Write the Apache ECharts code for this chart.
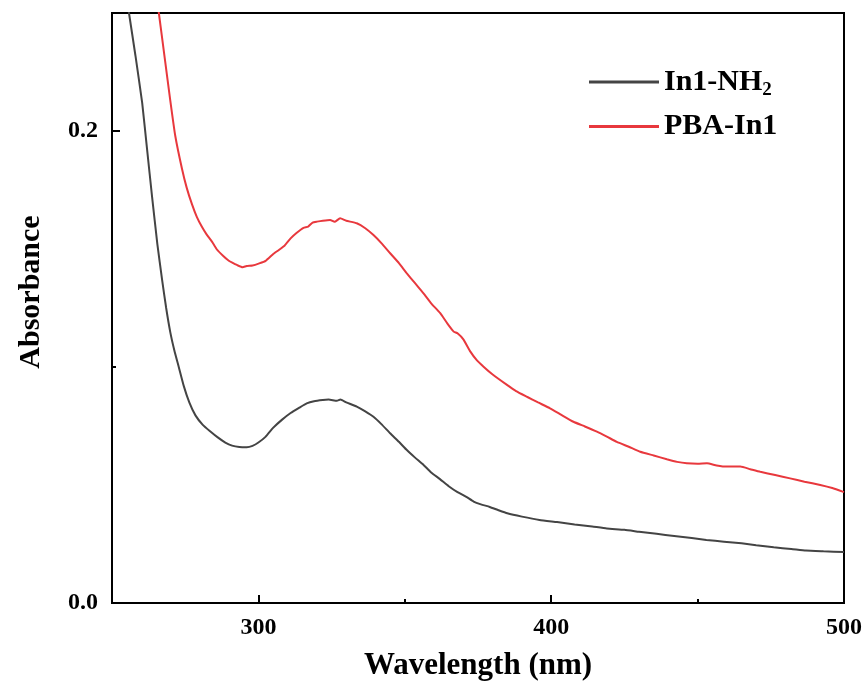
<!DOCTYPE html>
<html>
<head>
<meta charset="utf-8">
<script src="https://cdn.jsdelivr.net/npm/echarts@6/dist/echarts.min.js"></script>
<style>html,body{margin:0;padding:0;background:#fff;}#c{width:866px;height:693px;}</style>
</head>
<body>
<div id="c"></div>
<script>
const seriesNames = ['In1-NH2', 'PBA-In1'];
const xTickLabels = [300, 400, 500];
const xMinorTicks = [350, 450];
const yTickLabels = [0, 0.2];
const yMinorTicks = [0.1];

const wlBlack = [254,255.8,258,260.3,262,263.7,265.5,267.1,268.5,269.9,271.3,272.8,274.5,276.4,278.5,281,283.5,286,288.7,291,293.5,296,298,300,302.5,305,308,311,314,316.5,319,322,324,326.8,328,330,333.6,336.5,339.3,342,345,348,350.7,353.5,356.4,359,362,365,368,371,373.5,376,379,382,385,390,396,402,408,414,419,425,430,436,442,448,453,459,465,470,476,482,487,493,500];
const absBlack = [0.265,0.25,0.232,0.212,0.192,0.172,0.152,0.137,0.125,0.1148,0.107,0.100,0.092,0.085,0.0795,0.0755,0.0728,0.0703,0.0680,0.0667,0.0661,0.066,0.0666,0.068,0.0705,0.0742,0.0776,0.0805,0.0828,0.0846,0.0855,0.086,0.0862,0.0857,0.0862,0.085,0.0832,0.0812,0.0789,0.0758,0.0719,0.0683,0.0648,0.0616,0.0585,0.0553,0.0525,0.0495,0.047,0.045,0.043,0.0418,0.0407,0.0393,0.038,0.0366,0.0352,0.0343,0.0333,0.0324,0.0316,0.031,0.0302,0.0293,0.0284,0.0275,0.0267,0.026,0.0253,0.0245,0.0236,0.0229,0.0222,0.0219,0.0216];

const wlRed = [264,266,268,269.9,271.6,273.9,275.5,277.3,279,280.7,282.3,284.2,285.7,288,289.9,291.4,293,294.6,296,298,300.3,302.5,305,307,309,311,313,315.4,317,318.5,320,322,324.5,326,327.9,330,333.6,336.5,339.3,342,345,348,350.7,353.5,356.4,359,362.1,364.5,366.7,368,370,372.4,374.5,376.9,380,384.9,388,391.7,395.5,399.6,403.5,407.6,411.5,415.6,419,422.4,426.5,430.4,435,439.5,443,446.3,450,453.2,456.5,460,464.6,468,471.4,476.5,481.6,486.5,491.9,496,500];
const absRed = [0.269,0.25,0.231,0.213,0.198,0.184,0.176,0.169,0.1635,0.1594,0.1562,0.1530,0.1500,0.147,0.1450,0.1440,0.143,0.1423,0.1428,0.143,0.1439,0.1450,0.1478,0.1496,0.1515,0.1545,0.1568,0.159,0.1595,0.1612,0.1616,0.162,0.1623,0.1615,0.163,0.162,0.1609,0.1588,0.1559,0.1525,0.1482,0.144,0.1397,0.1355,0.1312,0.127,0.1228,0.1185,0.115,0.1143,0.1117,0.1065,0.103,0.1001,0.0968,0.0924,0.0898,0.0874,0.085,0.0825,0.0797,0.0768,0.0748,0.0726,0.0705,0.0683,0.0662,0.0641,0.0625,0.0609,0.0598,0.0592,0.059,0.0592,0.0583,0.0578,0.0578,0.0567,0.0556,0.0542,0.0528,0.0514,0.05,0.0487,0.047];

const FONT = 'Liberation Serif';
const chart = echarts.init(document.getElementById('c'), null, {renderer: 'canvas'});
const axisLine = {show: true, lineStyle: {color: '#000', width: 2}};
chart.setOption({
  animation: false,
  backgroundColor: '#fff',
  grid: {left: 112, right: 22, top: 13, bottom: 90, show: true, borderColor: '#000', borderWidth: 2, containLabel: false},
  legend: {
    orient: 'vertical', left: 584, top: 62, itemGap: 12,
    itemWidth: 70, itemHeight: 3, icon: 'rect',
    formatter: function (n) { return n === 'In1-NH2' ? 'In1-NH{sub|2}' : n; },
    textStyle: {fontFamily: FONT, fontWeight: 'bold', fontSize: 30, color: '#000',
      rich: {sub: {fontFamily: FONT, fontWeight: 'bold', fontSize: 19, verticalAlign: 'bottom', padding: [16, 0, 0, 0], color: '#000'}}}
  },
  xAxis: [{
    type: 'value', min: 250, max: 500, position: 'bottom',
    name: 'Wavelength (nm)', nameLocation: 'middle', nameGap: 47,
    nameTextStyle: {fontFamily: FONT, fontWeight: 'bold', fontSize: 31, color: '#000'},
    axisLine: axisLine, splitLine: {show: false},
    axisTick: {show: true, inside: true, length: 8, customValues: xTickLabels, lineStyle: {color: '#000', width: 2}},
    axisLabel: {customValues: xTickLabels, margin: 13, fontFamily: FONT, fontWeight: 'bold', fontSize: 24, color: '#000'}
  }, {
    type: 'value', min: 250, max: 500, position: 'bottom', gridIndex: 0,
    axisLine: {show: false}, splitLine: {show: false}, axisLabel: {show: false},
    axisTick: {show: true, inside: true, length: 4, customValues: xMinorTicks, lineStyle: {color: '#000', width: 2}}
  }],
  yAxis: [{
    type: 'value', min: 0, max: 0.25, position: 'left',
    name: 'Absorbance', nameLocation: 'middle', nameGap: 66, nameRotate: 90,
    nameTextStyle: {fontFamily: FONT, fontWeight: 'bold', fontSize: 30, color: '#000', padding: [0, 0, 0, 32]},
    axisLine: axisLine, splitLine: {show: false},
    axisTick: {show: true, inside: true, length: 8, customValues: yTickLabels, lineStyle: {color: '#000', width: 2}},
    axisLabel: {customValues: yTickLabels, margin: 14, fontFamily: FONT, fontWeight: 'bold', fontSize: 24, color: '#000',
      formatter: function (v) { return v.toFixed(1); }}
  }, {
    type: 'value', min: 0, max: 0.25, position: 'left', gridIndex: 0,
    axisLine: {show: false}, splitLine: {show: false}, axisLabel: {show: false},
    axisTick: {show: true, inside: true, length: 4, customValues: yMinorTicks, lineStyle: {color: '#000', width: 2}}
  }],
  series: [{
    name: seriesNames[0], type: 'line', xAxisIndex: 0, yAxisIndex: 0, showSymbol: false, symbol: 'none', clip: true,
    smooth: 0.15,
    lineStyle: {color: '#444444', width: 2}, itemStyle: {color: '#444444'},
    data: wlBlack.map((x, i) => [x, absBlack[i]])
  }, {
    name: seriesNames[1], type: 'line', xAxisIndex: 0, yAxisIndex: 0, showSymbol: false, symbol: 'none', clip: true,
    smooth: 0.15,
    lineStyle: {color: '#e8383d', width: 2}, itemStyle: {color: '#e8383d'},
    data: wlRed.map((x, i) => [x, absRed[i]])
  }]
});
</script>
</body>
</html>
